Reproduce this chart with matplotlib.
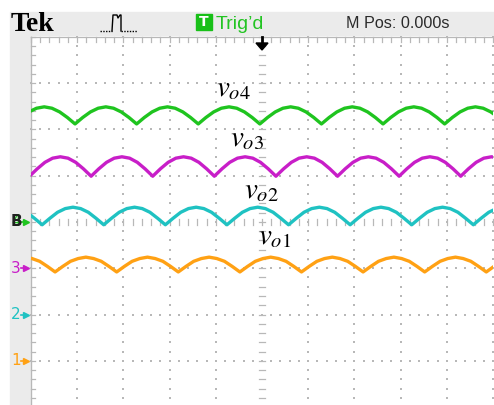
import numpy as np
import matplotlib
matplotlib.use("Agg")
import matplotlib.pyplot as plt
from matplotlib.patches import Rectangle, Polygon
from matplotlib.lines import Line2D

plt.rcParams["mathtext.fontset"] = "stix"

# ---- acquisition data (time in ms, 2.5 ms/div; vertical in screen divisions) ----
PERIOD = 10.0 / 3.0          # ripple period, ms
STEP = PERIOD / 8.0          # sample spacing, ms

t0_vo4 = -0.95
vo4 = [2.12, 2.26, 2.38, 2.46, 2.49, 2.46, 2.38, 2.26,
       2.12, 2.26, 2.38, 2.46, 2.49, 2.46, 2.38, 2.26,
       2.12, 2.26, 2.38, 2.46, 2.49, 2.46, 2.38, 2.26,
       2.12, 2.26, 2.38, 2.46, 2.49, 2.46, 2.38, 2.26,
       2.12, 2.26, 2.38, 2.46, 2.49, 2.46, 2.38, 2.26,
       2.12, 2.26, 2.38, 2.46, 2.49, 2.46, 2.38, 2.26,
       2.12, 2.26, 2.38, 2.46, 2.49, 2.46, 2.38, 2.26,
       2.12, 2.26, 2.38, 2.46, 2.49, 2.46, 2.38, 2.26,
       2.12]

t0_vo3 = -0.08
vo3 = [0.99, 1.15, 1.29, 1.38, 1.41, 1.38, 1.29, 1.15,
       0.99, 1.15, 1.29, 1.38, 1.41, 1.38, 1.29, 1.15,
       0.99, 1.15, 1.29, 1.38, 1.41, 1.38, 1.29, 1.15,
       0.99, 1.15, 1.29, 1.38, 1.41, 1.38, 1.29, 1.15,
       0.99, 1.15, 1.29, 1.38, 1.41, 1.38, 1.29, 1.15,
       0.99, 1.15, 1.29, 1.38, 1.41, 1.38, 1.29, 1.15,
       0.99, 1.15, 1.29, 1.38, 1.41, 1.38, 1.29, 1.15,
       0.99, 1.15, 1.29, 1.38, 1.41, 1.38, 1.29, 1.15,
       0.99]

t0_vo2 = -2.73
vo2 = [-0.06, 0.08, 0.21, 0.29, 0.32, 0.29, 0.21, 0.08,
       -0.06, 0.08, 0.21, 0.29, 0.32, 0.29, 0.21, 0.08,
       -0.06, 0.08, 0.21, 0.29, 0.32, 0.29, 0.21, 0.08,
       -0.06, 0.08, 0.21, 0.29, 0.32, 0.29, 0.21, 0.08,
       -0.06, 0.08, 0.21, 0.29, 0.32, 0.29, 0.21, 0.08,
       -0.06, 0.08, 0.21, 0.29, 0.32, 0.29, 0.21, 0.08,
       -0.06, 0.08, 0.21, 0.29, 0.32, 0.29, 0.21, 0.08,
       -0.06, 0.08, 0.21, 0.29, 0.32, 0.29, 0.21, 0.08,
       -0.06, 0.08, 0.21, 0.29, 0.32, 0.29, 0.21, 0.08,
       -0.06]

t0_vo1 = -2.03
vo1 = [-1.08, -0.96, -0.85, -0.79, -0.76, -0.79, -0.85, -0.96,
       -1.08, -0.96, -0.85, -0.79, -0.76, -0.79, -0.85, -0.96,
       -1.08, -0.96, -0.85, -0.79, -0.76, -0.79, -0.85, -0.96,
       -1.08, -0.96, -0.85, -0.79, -0.76, -0.79, -0.85, -0.96,
       -1.08, -0.96, -0.85, -0.79, -0.76, -0.79, -0.85, -0.96,
       -1.08, -0.96, -0.85, -0.79, -0.76, -0.79, -0.85, -0.96,
       -1.08, -0.96, -0.85, -0.79, -0.76, -0.79, -0.85, -0.96,
       -1.08, -0.96, -0.85, -0.79, -0.76, -0.79, -0.85, -0.96,
       -1.08, -0.96, -0.85, -0.79, -0.76, -0.79, -0.85, -0.96,
       -1.08]

trace_labels = ["$v_{o4}$", "$v_{o3}$", "$v_{o2}$", "$v_{o1}$"]
channel_names = ["1", "2", "3", "4"]
channel_offsets = [-3, -2, -1, 0]     # ground markers, divisions

C_CH1 = "#ffa114"
C_CH2 = "#1fc2c2"
C_CH3 = "#c81ec8"
C_CH4 = "#1fc41f"
GRID = "#b8b8b8"
PANEL = "#ebebeb"

W, H = 494, 405
fig = plt.figure(figsize=(W / 100, H / 100), dpi=100)
fig.patch.set_facecolor("white")


def fx(px):
    return px / W


def fy(py):
    return 1 - py / H


# instrument frame: header band and left strip
fig.add_artist(Rectangle((fx(10), fy(35)), fx(494) - fx(10), (35 - 12) / H,
                         transform=fig.transFigure, color=PANEL, zorder=0))
fig.add_artist(Rectangle((fx(10), 0), (31 - 10) / W, fy(35),
                         transform=fig.transFigure, color=PANEL, zorder=0))

# screen area: 10 x 8 divisions
MS_DIV = 2.5
ax = fig.add_axes([31 / W, 1 - 407 / H, 462 / W, 370 / H])
ax.set_xlim(0, 10 * MS_DIV)
ax.set_ylim(-4, 4)
ax.axis("off")

# dotted graticule
minor = np.arange(0, 8.001, 0.2) - 4
for d in [1, 2, 3, 4, 6, 7, 8, 9, 10]:
    ax.scatter(np.full(minor.size, d * MS_DIV), minor, s=1.3, marker="s",
               color=GRID, linewidths=0, zorder=1, clip_on=False)
minor_x = np.arange(0, 10.001, 0.2) * MS_DIV
for d in [-4, -3, -2, -1, 1, 2, 3]:
    ax.scatter(minor_x, np.full(minor_x.size, d), s=1.3, marker="s",
               color=GRID, linewidths=0, zorder=1, clip_on=False)

# centre cross with tick marks, and frame edges
for yy in minor:
    ax.plot([5 * MS_DIV - 0.06 * MS_DIV, 5 * MS_DIV + 0.06 * MS_DIV], [yy, yy],
            color=GRID, lw=0.9, zorder=1, clip_on=False)
    ax.plot([0, 0.08 * MS_DIV], [yy, yy], color=GRID, lw=0.9, zorder=1,
            clip_on=False)
for xx in minor_x:
    ax.plot([xx, xx], [-0.06, 0.06], color=GRID, lw=0.9, zorder=1, clip_on=False)
    ax.plot([xx, xx], [4, 3.9], color=GRID, lw=0.9, zorder=1, clip_on=False)
ax.plot([0, 0], [-4, 4], color=GRID, lw=0.9, zorder=1, clip_on=False)
ax.plot([0, 10 * MS_DIV], [4, 4], color=GRID, lw=0.9, zorder=1, clip_on=False)

# waveforms
traces = [(t0_vo4, vo4, C_CH4), (t0_vo3, vo3, C_CH3),
          (t0_vo2, vo2, C_CH2), (t0_vo1, vo1, C_CH1)]
for t0, vals, col in traces:
    t = t0 + STEP * np.arange(len(vals))
    ax.plot(t, vals, color=col, lw=2.4, solid_joinstyle="round", zorder=3)

# trace names
label_pos = [(216, 96), (230, 146), (244, 198), (258, 244)]
for lab, (px, py) in zip(trace_labels, label_pos):
    fig.text(fx(px), fy(py), lab, fontsize=21, color="black",
             ha="left", va="baseline", zorder=5)

# channel ground markers on the left strip
ch_colors = [C_CH1, C_CH2, C_CH3, C_CH4]
for name, off, col in zip(channel_names, channel_offsets, ch_colors):
    py = 222 - off * 46.25
    fig.text(fx(11), fy(py), name, fontsize=11, color=col,
             ha="left", va="center", family="DejaVu Sans")
    fig.add_artist(Line2D([fx(21), fx(25)], [fy(py), fy(py)], color=col, lw=1.2,
                          transform=fig.transFigure))
    fig.add_artist(Line2D([fx(26)], [fy(py)], marker=">", markersize=4,
                          color=col, linewidth=0, transform=fig.transFigure))
fig.text(fx(10.5), fy(222), "B", fontsize=11, color="#202020", ha="left",
         va="center", family="DejaVu Sans", fontweight="bold")

# header texts
fig.text(fx(11), fy(31), "Tek", family="Liberation Serif", fontweight="bold",
         fontsize=20, color="black", va="baseline")
pulse = [(112, 31), (113, 15), (117, 15), (118, 18), (120, 15), (121, 15),
         (121, 31)]
fig.add_artist(Line2D([fx(p[0]) for p in pulse], [fy(p[1]) for p in pulse],
                      color="black", lw=1.0, transform=fig.transFigure))
fig.add_artist(Line2D([fx(100), fx(112)], [fy(31), fy(31)], color="black",
                      lw=1.0, ls=(0, (1, 1)), transform=fig.transFigure))
fig.add_artist(Line2D([fx(121), fx(137)], [fy(31), fy(31)], color="black",
                      lw=1.0, ls=(0, (1, 1)), transform=fig.transFigure))

fig.add_artist(Rectangle((fx(196), fy(30)), 16 / W, 16 / H,
                         transform=fig.transFigure, color="#18c018"))
fig.text(fx(204), fy(22.5), "T", color="white", fontsize=10, fontweight="bold",
         ha="center", va="center", family="DejaVu Sans")
fig.text(fx(216), fy(29), "Trig\u2019d", color="#22c422", fontsize=14,
         va="baseline", family="Liberation Sans")
fig.text(fx(346), fy(28.5), "M Pos: 0.000s", color="#2a2a2a", fontsize=11.6,
         va="baseline", family="Liberation Sans")

# trigger position arrow
fig.add_artist(Line2D([fx(262), fx(262)], [fy(37), fy(44)], color="black", lw=2,
                      transform=fig.transFigure))
fig.add_artist(Polygon([(fx(256), fy(43)), (fx(268), fy(43)), (fx(262), fy(50))],
                       closed=True, color="black", transform=fig.transFigure))

fig.savefig("out.png", dpi=100)
